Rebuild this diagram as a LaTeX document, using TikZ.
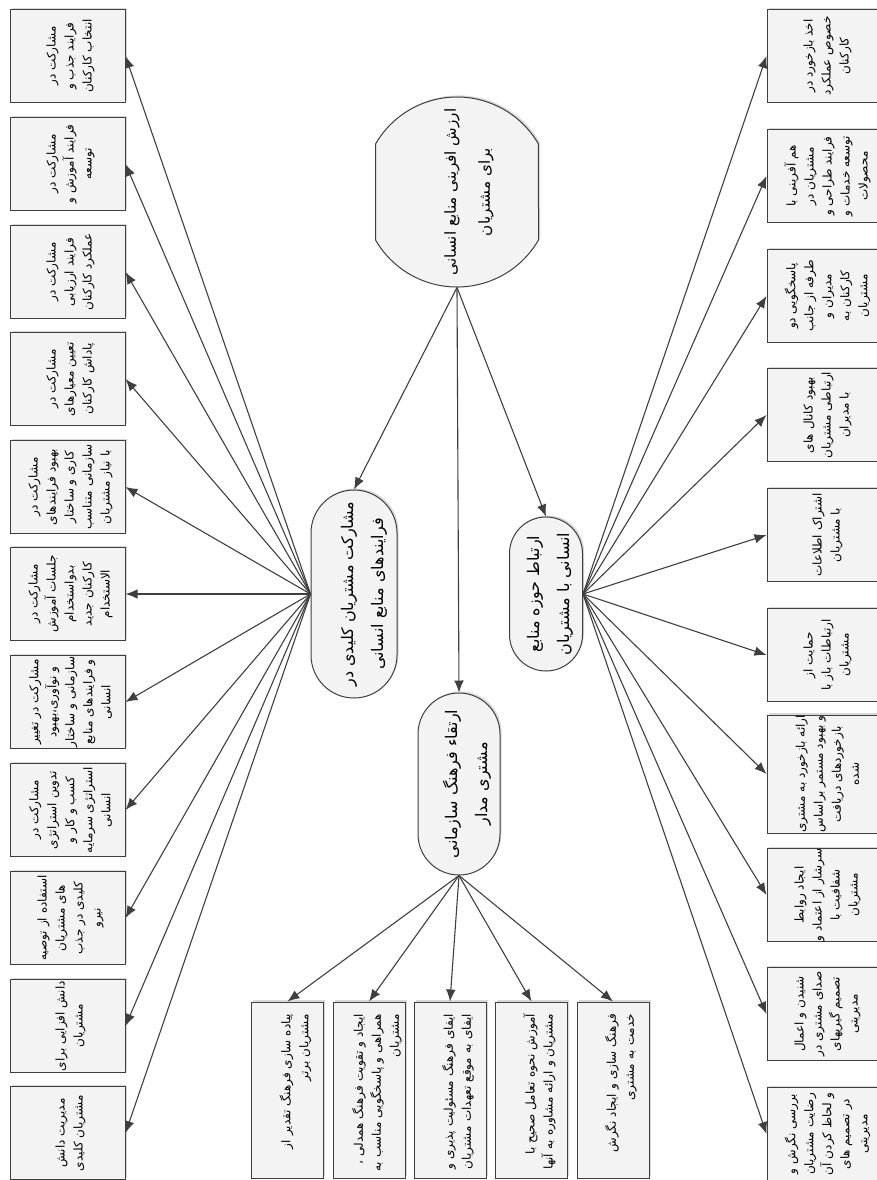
\documentclass[tikz,border=0pt]{standalone}
\usepackage{fontspec}
\usetikzlibrary{shapes.misc,arrows.meta,shadows}
\newfontfamily\persian[Script=Arabic]{DejaVu Sans}
\TeXXeTstate=1
\newcommand{\rtl}[1]{\beginR#1\endR}
\definecolor{edgegray}{HTML}{3F3F3F}
\definecolor{boxfill}{HTML}{F3F3F3}
\tikzset{
  linkarrow/.style={draw=edgegray, line width=0.55pt, -{Latex[length=6pt,width=4.8pt]}},
  boxshadow/.style={drop shadow={shadow xshift=0.8pt, shadow yshift=0.8pt, opacity=0.3}},
  leafbox/.style={draw=edgegray, fill=boxfill, line width=0.5pt, rotate=90, inner sep=0pt,
    minimum width=46.5pt, minimum height=57.5pt, boxshadow},
  culturebox/.style={leafbox, minimum width=88pt, minimum height=36pt},
  hubnode/.style={rounded rectangle, draw=edgegray, fill=boxfill, line width=0.5pt, rotate=90,
    inner sep=0pt, boxshadow},
  rootnode/.style={hubnode, rounded rectangle arc length=120},
  leaftext/.style={rotate=90, align=center, inner sep=0pt, font=\persian\fontsize{6}{9}\selectfont},
  culturetext/.style={leaftext, text width=84pt, align=right},
  hubtext/.style={leaftext, font=\persian\fontsize{8}{15}\selectfont},
  roottext/.style={leaftext, font=\persian\fontsize{7.6}{17}\selectfont}
}
\begin{document}
\begin{tikzpicture}[x=0.5pt, y=-0.5pt]
    \useasboundingbox (0,0) rectangle (877,1180);

    % root and the three branches
    \node[rootnode, minimum width=95pt, minimum height=81.5pt] (root) at (457,192) {};
    \node[roottext] (root-t) at ([xshift=6pt]root.center)
        {\rtl{ارزش افرینی منابع انسانی}\\\rtl{برای مشتریان}};
    \node[hubnode, minimum width=104pt, minimum height=43pt] (part) at (354,594) {};
    \node[hubtext] (part-t) at ([xshift=5pt]part.center)
        {\rtl{مشارکت مشتریان کلیدی در}\\\rtl{فرایندهای منابع انسانی}};
    \node[hubnode, minimum width=91pt, minimum height=41pt] (culture) at (459,784) {};
    \node[hubtext] (culture-t) at ([xshift=4pt]culture.center)
        {\rtl{ارتقاء فرهنگ سازمانی}\\\rtl{مشتری مدار}};
    \node[hubnode, minimum width=77pt, minimum height=36.5pt] (link) at (546,594) {};
    \node[hubtext] (link-t) at ([xshift=2pt]link.center)
        {\rtl{ارتباط حوزه منابع}\\\rtl{انسانی با مشتریان}};

    \draw[linkarrow] (root.west) -- (part.east);
    \draw[linkarrow] (root.west) -- (culture.east);
    \draw[linkarrow] (root.west) -- (link.east);

    % left column
    \foreach \i/\yy/\txt in {
        1/56/{\rtl{مشارکت در}\\\rtl{فرایند جذب و}\\\rtl{انتخاب کارکنان}},
        2/164/{\rtl{مشارکت در}\\\rtl{فرایند آموزش و}\\\rtl{توسعه}},
        3/272/{\rtl{مشارکت در}\\\rtl{فرایند ارزیابی}\\\rtl{عملکرد کارکنان}},
        4/379/{\rtl{مشارکت در}\\\rtl{تعیین معیارهای}\\\rtl{پاداش کارکنان}},
        5/487/{\rtl{مشارکت در}\\\rtl{بهبود فرایندهای}\\\rtl{کاری و ساختار}\\\rtl{سازمانی متناسب}\\\rtl{با نیاز مشتریان}},
        6/594/{\rtl{مشارکت در}\\\rtl{جلسات آموزش}\\\rtl{بدواستخدام}\\\rtl{کارکنان جدید}\\\rtl{الاستخدام}},
        7/702/{\rtl{مشارکت در تغییر}\\\rtl{و نوآوری،بهبود}\\\rtl{سازمانی و ساختار}\\\rtl{و فرایندهای منابع}\\\rtl{انسانی}},
        8/810/{\rtl{مشارکت در}\\\rtl{تدوین استراتژی}\\\rtl{کسب و کار و}\\\rtl{استراتژی سرمایه}\\\rtl{انسانی}},
        9/918/{\rtl{استفاده از توصیه}\\\rtl{های مشتریان}\\\rtl{کلیدی در جذب}\\\rtl{نیرو}},
        10/1026/{\rtl{دانش افزایی برای}\\\rtl{مشتریان}},
        11/1133/{\rtl{مدیریت دانش}\\\rtl{مشتریان کلیدی}}}
    {
        \node[leafbox] (p\i) at (67.5,\yy) {};
        \node[leaftext] (p\i-t) at ([xshift=1.5pt]p\i.center) {\txt};
        \draw[linkarrow] (part.north) -- (p\i.south);
    }

    % right column
    \foreach \i/\yy/\hh/\txt in {
        1/56/46.5/{\rtl{اخذ بازخورد در}\\\rtl{خصوص عملکرد}\\\rtl{کارکنان}},
        2/176/46.5/{\rtl{هم آفرینی با}\\\rtl{مشتریان در}\\\rtl{فرایند طراحی و}\\\rtl{توسعه خدمات و}\\\rtl{محصولات}},
        3/296/46.5/{\rtl{پاسخگویی دو}\\\rtl{طرفه از جانب}\\\rtl{مدیران و}\\\rtl{کارکنان به}\\\rtl{مشتریان}},
        4/415/46.5/{\rtl{بهبود کانال های}\\\rtl{ارتباطی مشتریان}\\\rtl{با مدیران}},
        5/535/46.5/{\rtl{اشتراک اطلاعات}\\\rtl{با مشتریان}},
        6/655/46.5/{\rtl{حمایت از}\\\rtl{ارتباطات باز با}\\\rtl{مشتریان}},
        7/774/59/{\rtl{ارائه بازخورد به مشتری}\\\rtl{و بهبود مستمر براساس}\\\rtl{بازخوردهای دریافت}\\\rtl{شده}},
        8/895/46.5/{\rtl{ایجاد روابط}\\\rtl{سرشار از اعتماد و}\\\rtl{شفافیت با}\\\rtl{مشتریان}},
        9/1014/46.5/{\rtl{شنیدن و اعمال}\\\rtl{صدای مشتری در}\\\rtl{تصمیم گیریهای}\\\rtl{مدیریتی}},
        10/1134/46.5/{\rtl{بررسی نگرش و}\\\rtl{رضایت مشتریان}\\\rtl{و لحاظ کردن آن}\\\rtl{در تصمیم های}\\\rtl{مدیریتی}}}
    {
        \node[leafbox, minimum width=\hh pt] (c\i) at (824.5,\yy) {};
        \node[leaftext] (c\i-t) at ([xshift=1.5pt]c\i.center) {\txt};
        \draw[linkarrow] (link.south) -- (c\i.north);
    }

    % bottom row
    \foreach \i/\xx/\txt in {
        1/287.5/{\rtl{پیاده سازی فرهنگ تقدیر از}\\\rtl{مشتریان برتر}},
        2/369/{\rtl{ایجاد و تقویت فرهنگ همدلی ،}\\\rtl{همراهی و پاسخگویی مناسب به}\\\rtl{مشتریان}},
        3/450/{\rtl{ایفای فرهنگ مسئولیت پذیری و}\\\rtl{ایفای به موقع تعهدات مشتریان}},
        4/531.5/{\rtl{آموزش نحوه تعامل صحیح با}\\\rtl{مشتریان و ارائه مشاوره به آنها}},
        5/613/{\rtl{فرهنگ سازی و ایجاد نگرش}\\\rtl{خدمت به مشتری}}}
    {
        \node[culturebox] (m\i) at (\xx,1090) {};
        \node[culturetext] (m\i-t) at ([xshift=4pt, yshift=-4pt]m\i.center) {\txt};
        \draw[linkarrow] (culture.west) -- (m\i.east);
    }
\end{tikzpicture}
\end{document}
